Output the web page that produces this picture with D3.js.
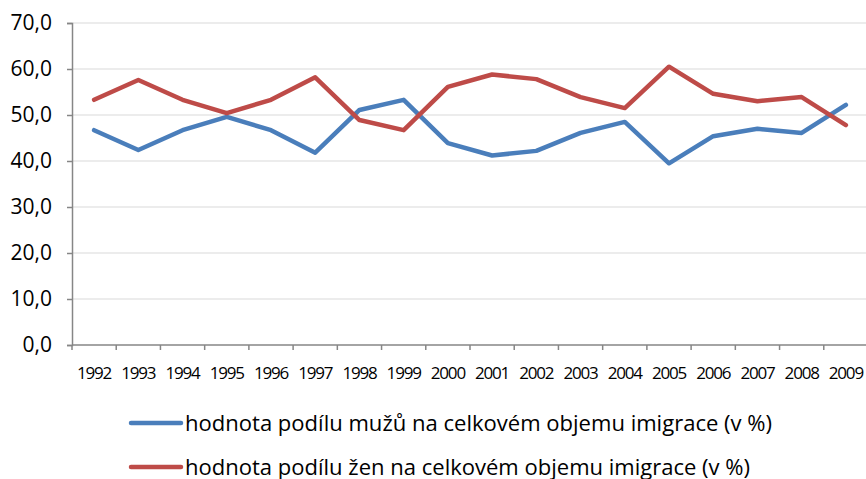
<!DOCTYPE html>
<html lang="cs">
  <head>
    <meta charset="utf-8">
    <title>Imigrace podle pohlaví</title>
    <script src="https://cdn.jsdelivr.net/npm/d3@7"></script>
    <style>
      body { margin: 0; background: #fff; }
    </style>
  </head>
  <body>
    <script>
      // data
      var years = ["1992","1993","1994","1995","1996","1997","1998","1999","2000",
                   "2001","2002","2003","2004","2005","2006","2007","2008","2009"];
      var muzi = [46.7, 42.4, 46.7, 49.6, 46.7, 41.8, 51.1, 53.3, 43.9,
                  41.2, 42.2, 46.1, 48.5, 39.5, 45.4, 47.0, 46.1, 52.2];
      var zeny = [53.3, 57.6, 53.3, 50.4, 53.3, 58.2, 48.9, 46.7, 56.1,
                  58.8, 57.8, 53.9, 51.5, 60.5, 54.6, 53.0, 53.9, 47.8];
      var yTicks = [0, 10, 20, 30, 40, 50, 60, 70];
      var legendLabels = ["hodnota podílu mužů na celkovém objemu imigrace (v %)",
                          "hodnota podílu žen na celkovém objemu imigrace (v %)"];
      var colors = ["#4a7ebb", "#be4b48"];

      const W = 866, H = 479;
      const LEFT = 72, RIGHT = 868, TOP = 23, BOTTOM = 345;
      const FONT = "'Open Sans', sans-serif";

      var svg = d3.select("body").append("svg")
        .attr("width", W)
        .attr("height", H);

      var x = d3.scaleBand().domain(years).range([LEFT, RIGHT]);
      var y = d3.scaleLinear().domain([0, 70]).range([BOTTOM, TOP]);

      // gridlines
      svg.append("g").selectAll("line")
        .data(yTicks.slice(1))
        .join("line")
        .attr("x1", LEFT).attr("x2", W)
        .attr("y1", d => y(d)).attr("y2", d => y(d))
        .attr("stroke", "#d9d9d9")
        .attr("stroke-width", 1.2);

      // y axis
      var yAxis = svg.append("g")
        .attr("transform", "translate(" + LEFT + ",0)")
        .call(d3.axisLeft(y).tickValues(yTicks).tickSize(5).tickPadding(15)
          .tickFormat(d => d3.format(".1f")(d).replace(".", ",")));
      yAxis.select(".domain").attr("stroke", "#868686").attr("stroke-width", 1.5);
      yAxis.selectAll(".tick line").attr("stroke", "#868686").attr("stroke-width", 1.5);
      yAxis.selectAll("text")
        .attr("fill", "#000")
        .style("font-family", FONT)
        .style("font-size", "21px");

      // x axis: ticks sit between categories
      var xAxis = svg.append("g")
        .attr("transform", "translate(0," + BOTTOM + ")");
      xAxis.append("line")
        .attr("x1", LEFT).attr("x2", W)
        .attr("stroke", "#868686").attr("stroke-width", 1.5);
      xAxis.selectAll(".tk")
        .data(years)
        .join("line")
        .attr("class", "tk")
        .attr("x1", d => x(d)).attr("x2", d => x(d))
        .attr("y1", 0).attr("y2", 5)
        .attr("stroke", "#868686").attr("stroke-width", 1.5);
      xAxis.selectAll("text")
        .data(years)
        .join("text")
        .attr("x", d => x(d) + x.bandwidth() / 2)
        .attr("y", 34)
        .attr("text-anchor", "middle")
        .style("font-family", FONT)
        .style("font-size", "17px")
        .style("letter-spacing", "-1.2px")
        .text(d => d);

      // lines
      var line = d3.line()
        .x((d, i) => x(years[i]) + x.bandwidth() / 2)
        .y(d => y(d));

      [muzi, zeny].forEach(function(s, k) {
        svg.append("path")
          .datum(s)
          .attr("fill", "none")
          .attr("stroke", colors[k])
          .attr("stroke-width", 4.5)
          .attr("stroke-linejoin", "round")
          .attr("stroke-linecap", "round")
          .attr("d", line);
      });

      // legend
      var legendWidth = [587, 565];
      var leg = svg.append("g").selectAll("g")
        .data(legendLabels)
        .join("g")
        .attr("transform", (d, i) => "translate(0," + (423 + i * 44) + ")");
      leg.append("line")
        .attr("x1", 131).attr("x2", 181)
        .attr("stroke", (d, i) => colors[i])
        .attr("stroke-width", 4.5)
        .attr("stroke-linecap", "round");
      leg.append("text")
        .attr("x", 185)
        .attr("y", 8.4)
        .attr("textLength", (d, i) => legendWidth[i])
        .attr("lengthAdjust", "spacingAndGlyphs")
        .style("font-family", FONT)
        .style("font-size", "22px")
        .text(d => d);
    </script>
  </body>
</html>
